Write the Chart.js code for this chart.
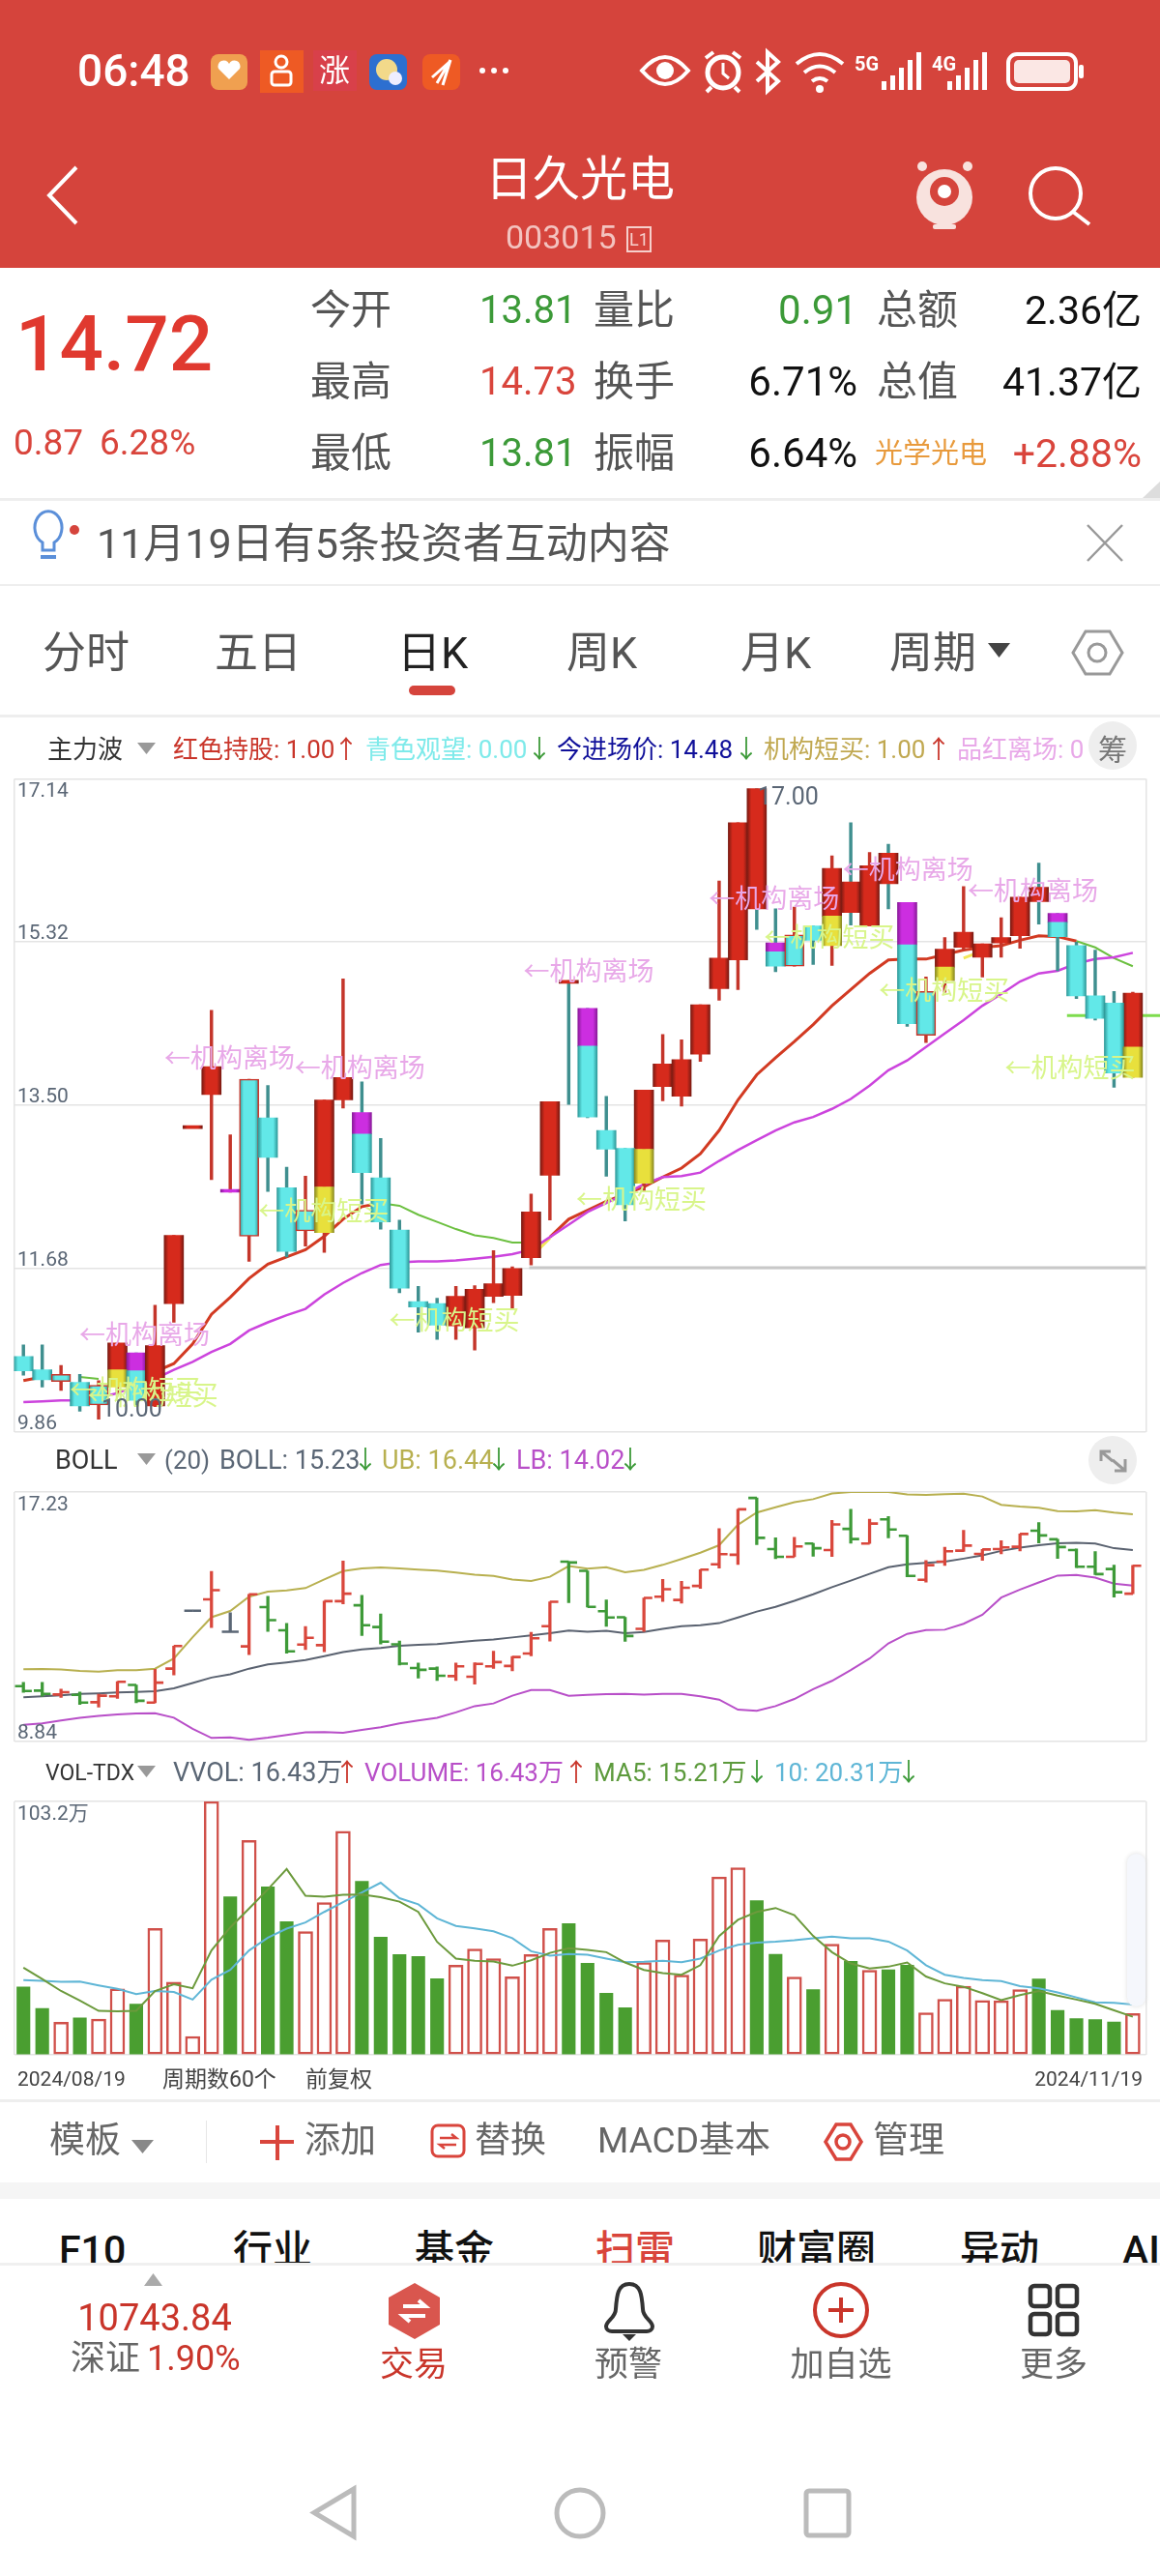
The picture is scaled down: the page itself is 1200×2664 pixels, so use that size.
<!DOCTYPE html>
<html lang="zh">
<head>
<meta charset="utf-8">
<title>日久光电 003015</title>
<script src="https://cdn.jsdelivr.net/npm/chart.js@4/dist/chart.umd.js"></script>
<style>
  html, body { margin: 0; padding: 0; background: #fff; }
  body { position: relative; width: 1200px; height: 2664px; overflow: hidden; font-family: Roboto, "Noto Sans CJK SC", sans-serif; }
  canvas { position: absolute; left: 0; display: block; z-index: 1; }
  .txt { position: absolute; white-space: nowrap; line-height: 1; z-index: 4; transform: translateY(-50%); }
  .box { position: absolute; }
  svg.ui { position: absolute; left: 0; top: 0; z-index: 3; }
</style>
</head>
<body>
<div class="box" style="left:0;top:0;width:1200px;height:277px;background:#D5443C"></div>
<div class="box" style="left:0;top:515px;width:1200px;height:3px;background:#eee"></div>
<div class="box" style="left:0;top:604px;width:1200px;height:2px;background:#eee"></div>
<div class="box" style="left:423px;top:709px;width:48px;height:10px;border-radius:5px;background:#D5443C"></div>
<div class="box" style="left:0;top:739px;width:1200px;height:3px;background:#eee"></div>
<div class="box" style="left:0;top:2171px;width:1200px;height:3px;background:#eee"></div>
<div class="box" style="left:213px;top:2193px;width:1px;height:44px;background:#e6e6e6"></div>
<div class="box" style="left:0;top:2257px;width:1200px;height:17px;background:#f5f5f5"></div>
<div class="box" style="left:1126px;top:746px;width:50px;height:50px;border-radius:25px;background:#eee;z-index:2"></div>
<div class="box" style="left:1126px;top:1485px;width:50px;height:50px;border-radius:25px;background:#eee;z-index:2"></div>
<div class="box" style="left:1166px;top:1917px;width:19px;height:158px;border-radius:10px;background:#f5f7fc;box-shadow:0 0 5px #ddd;z-index:2"></div>
<div class="box" style="left:0;top:2340px;width:1200px;height:324px;background:#fff;border-top:3px solid #f0f0f0;box-sizing:border-box;z-index:2"></div>

<canvas id="mainChart" width="1200" height="690" style="top:800px"></canvas>
<canvas id="bollChart" width="1200" height="272" style="top:1536px"></canvas>
<canvas id="volChart" width="1200" height="272" style="top:1858px"></canvas>

<svg class="ui" width="1200" height="2664" fill="none">
  <!-- status bar -->
  <rect x="218" y="56" width="38" height="37" rx="8" fill="#F0A050"/>
  <path d="M237 82l-11-11a6 6 0 0 1 11-5a6 6 0 0 1 11 5z" fill="#fff"/>
  <rect x="269" y="52" width="45" height="44" fill="#EE5A24"/>
  <circle cx="291" cy="64" r="6" stroke="#fff" stroke-width="3"/><rect x="281" y="74" width="20" height="14" rx="3" stroke="#fff" stroke-width="3"/>
  <rect x="324" y="52" width="45" height="42" fill="#D8404A"/>
  <text x="346" y="84" font-size="32" fill="#fff" text-anchor="middle" font-family="Noto Sans CJK SC">涨</text>
  <rect x="382" y="56" width="39" height="37" rx="8" fill="#2D6FD0"/>
  <circle cx="400" cy="72" r="11" fill="#F2D98A"/><circle cx="409" cy="81" r="7" fill="#eef"/>
  <rect x="437" y="56" width="39" height="37" rx="8" fill="#EE5A24"/>
  <path d="M447 80l18-16M452 86l14-24M458 88l8-26" stroke="#fff" stroke-width="3"/>
  <circle cx="499" cy="73" r="3" fill="#fff"/><circle cx="511" cy="73" r="3" fill="#fff"/><circle cx="523" cy="73" r="3" fill="#fff"/>
  <path d="M664 73q24-28 48 0q-24 28-48 0z" stroke="#fff" stroke-width="4"/><circle cx="688" cy="73" r="9" fill="#fff"/>
  <circle cx="748" cy="75" r="16" stroke="#fff" stroke-width="5"/><path d="M748 65v11l6 5" stroke="#fff" stroke-width="3"/><path d="M730 60l8-6M766 60l-8-6M736 90l-5 5M760 90l5 5" stroke="#fff" stroke-width="4"/>
  <path d="M783 64l22 20l-11 10v-40l11 10l-22 20" stroke="#fff" stroke-width="4"/>
  <path d="M824 66q24-20 48 0M832 75q16-13 32 0M840 84q8-6 16 0" stroke="#fff" stroke-width="4"/><circle cx="848" cy="92" r="4" fill="#fff"/>
  <g fill="#fff" font-family="Roboto" font-size="20" font-weight="700"><text x="884" y="73">5G</text><text x="964" y="73">4G</text></g>
  <g fill="#fff">
    <rect x="912" y="84" width="5" height="9"/><rect x="921" y="78" width="5" height="15"/><rect x="930" y="70" width="5" height="23"/><rect x="939" y="62" width="5" height="31"/><rect x="948" y="54" width="5" height="39"/>
    <rect x="980" y="84" width="5" height="9"/><rect x="989" y="78" width="5" height="15"/><rect x="998" y="70" width="5" height="23"/><rect x="1007" y="62" width="5" height="31"/><rect x="1016" y="54" width="5" height="39"/>
  </g>
  <rect x="1043" y="56" width="70" height="36" rx="9" stroke="#fff" stroke-width="4"/><rect x="1049" y="62" width="58" height="24" rx="5" fill="#FBE7E4"/><rect x="1116" y="67" width="5" height="14" rx="2" fill="#fff"/>
  <!-- nav -->
  <path d="M79 173l-28 29l28 29" stroke="#fff" stroke-width="4"/>
  <circle cx="977" cy="204" r="29" fill="#F8E2DE"/><circle cx="977" cy="198" r="15" fill="#D5443C"/><circle cx="977" cy="198" r="7" fill="#fff"/>
  <circle cx="954" cy="172" r="5" fill="#F8E2DE"/><circle cx="1001" cy="172" r="5" fill="#F8E2DE"/><rect x="965" y="232" width="24" height="5" rx="2" fill="#F8E2DE"/>
  <circle cx="1092" cy="200" r="26" stroke="#fff" stroke-width="4"/><path d="M1110 219l17 13" stroke="#fff" stroke-width="4"/>
  <rect x="649" y="235" width="24" height="25" stroke="#F6CFCB" stroke-width="2"/>
  <!-- stats corner, notice, tabs -->
  <path d="M1200 498v17h-18z" fill="#ddd"/>
  <path d="M56 563a14 17 0 1 0-12 0v8h12z" stroke="#5B8FD9" stroke-width="3" transform="translate(0 -2)"/><rect x="42" y="574" width="16" height="4" fill="#5B8FD9"/>
  <circle cx="77" cy="548" r="5" fill="#D5443C"/>
  <path d="M1125 543l36 37M1161 543l-36 37" stroke="#999" stroke-width="2.5"/>
  <path d="M1022 665h23l-11.500 15z" fill="#444"/>
  <path d="M1123 653h25l13 22l-13 22h-25l-13-22z" stroke="#999" stroke-width="3"/><circle cx="1135" cy="675" r="9" stroke="#999" stroke-width="3"/>
  <!-- legend triangles -->
  <g fill="#999"><path d="M142 768h19l-9.500 12z"/><path d="M142 1503h19l-9.500 12z"/><path d="M142 1826h19l-9.500 12z"/></g>
  <!-- expand icon -->
  <path d="M1139 1511v-10h10M1139 1501l12 10M1164 1509v12h-11M1164 1521l-13-11" stroke="#999" stroke-width="3"/>
  <!-- toolbar -->
  <g transform="translate(0 1)">
    <path d="M136 2212h23l-11.500 14z" fill="#888"/>
    <path d="M287 2197v36M269 2214h35" stroke="#D9453C" stroke-width="4"/>
    <rect x="447" y="2197" width="33" height="32" rx="6" stroke="#D9453C" stroke-width="3"/><path d="M455 2210h17l-5-4M472 2217h-17l5 4" stroke="#D9453C" stroke-width="2.500"/>
    <path d="M865 2196h15l11 18l-11 18h-15l-11-18z" stroke="#D9453C" stroke-width="3.500"/><circle cx="872" cy="2214" r="7" stroke="#D9453C" stroke-width="3.500"/>
  </g>
  <!-- bottom bar -->
  <g transform="translate(0 4)">
    <path d="M149 2360l9.500-13l9.500 13z" fill="#aaa"/>
    <path d="M429 2357l26 15v28l-26 15l-27-15v-28z" fill="#D9564E"/>
    <path d="M417 2381h23l-7-6M440 2391h-23l7 6" stroke="#fff" stroke-width="4"/>
    <path d="M651 2358c-12 0-13 12-14 26c0 9-10 12-10 18c0 3 3 5 6 5h36c3 0 6-2 6-5c0-6-10-9-10-18c-1-14-2-26-14-26z" stroke="#333" stroke-width="4"/>
    <path d="M644 2410h14l-7 7z" fill="#333"/>
    <circle cx="870" cy="2385" r="27" stroke="#C9352A" stroke-width="4"/><path d="M870 2372v26M857 2385h26" stroke="#C9352A" stroke-width="4"/>
    <g stroke="#333" stroke-width="4.500">
      <rect x="1066" y="2360" width="20" height="21" rx="4"/><rect x="1094" y="2360" width="20" height="21" rx="4"/>
      <rect x="1066" y="2389" width="20" height="21" rx="4"/><rect x="1094" y="2389" width="20" height="21" rx="4"/>
    </g>
  </g>
  <!-- system nav -->
  <g stroke="#bbb" stroke-width="5" transform="translate(0 7)">
    <path d="M366 2567v49l-41-24.500z"/><ellipse cx="600" cy="2592" rx="24" ry="24"/><rect x="834" y="2569" width="44" height="46" rx="3"/>
  </g>
</svg>

<script>
// 行情数据,从截图读取
const openPrice = [10.70,10.55,10.42,10.41,10.16,10.36,10.74,10.15,11.29,13.24,13.62,12.53,12.04,13.36,12.58,12.10,12.08,13.56,13.42,12.69,12.11,11.31,11.29,11.04,11.02,11.37,11.38,11.80,12.72,14.89,14.58,13.22,13.02,12.63,13.71,13.60,14.07,14.80,15.12,17.03,15.31,15.05,15.50,15.28,15.99,15.50,16.31,15.76,14.28,14.89,15.26,15.15,15.31,15.39,15.93,15.64,15.28,14.72,14.64,13.81];
const closePrice = [10.54,10.44,10.50,10.15,10.38,10.85,10.21,10.82,12.05,13.24,13.93,12.53,13.79,12.92,11.87,12.33,13.56,13.81,12.75,12.20,11.46,11.25,11.05,11.37,11.45,11.51,11.68,12.31,13.54,14.86,13.37,13.01,12.39,13.67,13.96,14.01,14.62,15.14,16.65,15.69,15.05,15.40,15.34,16.14,15.65,16.17,15.97,14.41,14.77,15.24,15.43,15.30,15.37,15.82,15.77,15.38,14.72,14.47,13.86,14.75];
const highPrice = [10.83,10.83,10.60,10.50,10.43,10.85,10.74,11.27,12.05,13.24,14.56,13.17,13.79,13.72,12.81,12.71,13.56,14.91,13.76,13.13,12.22,11.48,11.35,11.48,11.49,11.88,11.70,12.51,13.54,14.89,14.58,13.60,13.02,13.67,14.29,14.23,14.62,16.00,16.65,17.03,15.69,15.71,15.50,16.28,16.65,16.32,16.41,15.76,14.93,15.37,15.94,15.30,15.59,15.82,16.20,15.64,15.32,15.23,14.77,14.76];
const lowPrice = [10.49,10.36,10.32,10.09,10.00,10.29,10.14,10.14,11.08,13.24,12.67,12.53,11.76,12.54,11.81,11.93,11.86,13.47,12.40,12.12,11.41,10.97,10.89,10.89,10.77,11.30,11.22,11.72,12.22,13.51,13.36,12.71,12.21,12.54,13.55,13.49,13.99,14.67,14.79,15.46,14.99,15.05,15.07,15.06,15.51,15.50,15.69,14.38,14.20,14.76,15.23,14.93,15.15,15.25,15.52,15.00,14.69,14.45,13.70,13.81];

// K线实体颜色: c青 r红 m品红, 两位时上段/下段
const bodyKind = ['c','c','c','c','c','ry','mc','r','r','r','r','m','c','c','c','c','ry','r','mc','c','c','c','c','r','r','r','r','r','r','r','mc','c','c','ry','r','r','r','r','r','r','mc','c','c','ry','r','r','r','mc','c','ry','r','r','r','r','r','mc','c','c','c','ry'];
const splitIndex = [5,6,16,18,30,33,40,43,47,49,55,59];
const splitPrice = [10.55,10.54,12.59,13.18,14.16,13.01,15.21,15.61,15.29,15.04,15.54,14.15];

const mainRed = [10.43,10.47,10.48,null,null,10.42,10.43,10.53,10.62,10.84,11.17,11.36,11.57,11.73,11.81,11.89,12.04,12.23,12.37,12.41,null,null,null,null,null,null,null,null,12.03,12.23,12.33,12.43,12.51,12.59,12.70,12.80,12.96,13.22,13.56,13.84,14.03,14.21,14.40,14.61,14.79,14.97,15.12,15.13,15.13,15.18,15.23,15.26,15.28,15.34,15.39,15.38,15.33,null,null,null];
const mainGreen = [null,null,null,10.47,10.45,null,null,null,null,null,null,null,null,null,null,null,null,null,null,12.41,12.38,12.28,12.20,12.12,12.05,12.02,11.97,11.97,null,null,null,null,null,null,null,null,null,null,null,null,null,null,null,null,null,null,null,null,null,null,null,null,null,null,null,null,15.33,15.26,15.14,15.05];
const mainMagenta = [10.19,10.20,10.21,10.21,10.24,10.29,10.38,10.45,10.55,10.64,10.75,10.84,10.99,11.08,11.16,11.23,11.39,11.52,11.63,11.72,11.75,11.76,11.76,11.77,11.79,11.81,11.84,11.89,12.03,12.17,12.31,12.41,12.51,12.62,12.70,12.71,12.75,12.88,13.00,13.11,13.22,13.31,13.37,13.46,13.57,13.72,13.89,14.00,14.15,14.30,14.45,14.61,14.74,14.88,14.97,15.00,15.08,15.13,15.15,15.20];
const mainYellow = [{x:27,y:11.81},{x:28,y:12.02},{x:28.5,y:null},{x:50,y:15.14},{x:50.5,y:15.18}];
const entryLine = [{x:55.5,y:14.50},{x:60.46,y:14.50}];
const supportLine = [{x:26.9,y:11.69},{x:59.7,y:11.69}];

const leaveLabels = [[3.17,10.95],[7.7,14.03],[14.63,13.92],[26.8,15.00],[36.65,15.81],[43.77,16.13],[50.42,15.90]];
const buyLabels = [[2.68,10.33],[3.62,10.27],[12.7,12.33],[19.65,11.11],[29.6,12.46],[39.6,15.38],[45.7,14.79],[52.4,13.92]];
const priceMarks = [[39.06,16.92,'17.00'],[4.15,10.10,'10.00']];
const mainTicks = [17.14,15.32,13.50,11.68,9.86];

const bollMid = [10.33,10.36,10.39,10.44,10.46,10.49,10.51,10.53,10.63,10.81,10.99,11.10,11.29,11.43,11.50,11.58,11.71,11.85,11.94,11.99,12.06,12.09,12.12,12.17,12.23,12.27,12.34,12.41,12.48,12.57,12.53,12.56,12.48,12.52,12.63,12.72,12.75,12.82,13.01,13.21,13.37,13.57,13.79,14.03,14.25,14.48,14.70,14.80,14.85,14.89,14.99,15.10,15.25,15.36,15.44,15.51,15.52,15.50,15.34,15.28];
const bollUpper = [11.27,11.28,11.26,11.21,11.19,11.24,11.24,11.29,11.63,12.35,13.02,13.23,13.71,13.88,13.92,14.00,14.29,14.57,14.66,14.69,14.66,14.62,14.59,14.52,14.45,14.41,14.29,14.24,14.38,14.74,14.65,14.70,14.53,14.61,14.78,14.98,15.19,15.44,16.13,16.54,16.72,16.89,16.99,17.18,17.23,17.23,17.23,17.15,17.13,17.16,17.17,17.08,16.80,16.74,16.70,16.59,16.58,16.62,16.54,16.48];
const bollLower = [9.40,9.45,9.55,9.64,9.70,9.75,9.78,9.79,9.64,9.27,8.96,8.98,8.90,8.97,9.06,9.15,9.16,9.13,9.23,9.32,9.45,9.55,9.64,9.82,10.03,10.12,10.38,10.57,10.57,10.38,10.41,10.43,10.44,10.42,10.44,10.44,10.36,10.25,9.91,9.87,10.03,10.27,10.60,10.88,11.24,11.63,12.14,12.46,12.59,12.60,12.80,13.10,13.68,13.95,14.19,14.42,14.44,14.35,14.15,14.08];
const bollTicks = [17.23,8.84];

const volume = [27.6,18.9,13.3,15.0,14.5,26.9,20.6,51.5,29.6,7.5,103.2,64.4,87.3,68.4,54.2,50.2,62.0,91.1,70.7,47.9,40.8,40.0,31.0,36.5,43.1,39.2,31.8,40.8,51.5,53.4,37.3,25.1,19.2,37.6,46.7,32.5,47.1,72.4,76.2,62.8,40.9,31.7,26.6,45.1,38.1,34.4,34.6,36.5,17.1,22.6,27.9,22.1,22.0,26.6,30.9,18.1,14.7,14.3,13.4,16.8];
const volumeColor = ['g','g','r','g','r','r','g','r','r','r','r','g','r','g','g','r','r','r','g','g','g','g','g','r','r','r','r','r','r','g','g','g','g','r','r','r','r','r','r','g','g','r','g','r','g','r','g','g','r','r','r','r','r','r','g','g','g','g','g','r'];
const volumeMa5 = [35.5,30.9,26.0,22.1,17.9,17.7,17.9,26.0,28.7,27.1,42.5,51.9,59.6,67.4,75.7,64.8,64.4,65.2,65.3,64.2,62.4,58.2,46.0,39.2,38.3,38.0,36.3,38.5,41.5,43.4,42.7,41.8,37.6,34.6,33.3,32.6,36.5,48.4,55.0,58.2,59.8,56.9,48.4,41.8,37.2,35.2,35.9,37.6,31.9,29.1,27.7,25.1,22.3,24.3,26.0,24.1,22.5,20.8,18.1,15.5];
const volumeMa10 = [30.4,30.1,29.7,29.8,28.3,26.9,24.7,26.0,25.6,22.5,30.6,34.6,42.5,47.7,51.4,53.9,58.2,62.2,66.1,70.1,63.8,61.3,55.6,52.5,51.5,50.3,47.5,42.2,40.4,41.1,40.8,39.2,37.7,37.9,38.3,37.7,39.2,42.5,44.8,45.7,46.1,46.7,47.5,48.2,47.5,47.5,46.1,42.5,36.5,32.6,31.3,30.4,30.0,28.0,27.1,25.4,23.4,21.4,21.2,20.5];
const volumeMax = 103.2;

// 页面文字 [x, y中心, 文字, 字号, 颜色, 对齐, 字重]
const GRAY = '#555', RED = '#D9453C', GREEN = '#3C9A38', INK = '#111';
const pageText = [
  [80,73,'06:48',46,'#fff','l',500],
  [600,185,'日久光电',49,'#fff','c'],
  [523,245,'003015',34,'#F3C3BF','l'],
  [661,248,'L1',18,'#F6CFCB','c'],
  [16,356,'14.72',80,'#E0392F','l',500],
  [14,457,'0.87',37,RED,'l'],
  [103,457,'6.28%',37,RED,'l'],
  [321,321,'今开',42,GRAY,'l'],[321,395,'最高',42,GRAY,'l'],[321,469,'最低',42,GRAY,'l'],
  [496,321,'13.81',40,GREEN,'l'],[496,395,'14.73',40,RED,'l'],[496,469,'13.81',40,GREEN,'l'],
  [614,321,'量比',42,GRAY,'l'],[614,395,'换手',42,GRAY,'l'],[614,469,'振幅',42,GRAY,'l'],
  [887,321,'0.91',42,GREEN,'r'],[887,395,'6.71%',42,INK,'r'],[887,469,'6.64%',42,INK,'r'],
  [907,321,'总额',42,GRAY,'l'],[907,395,'总值',42,GRAY,'l'],[905,469,'光学光电',29,'#E89A3C','l'],
  [1181,321,'2.36亿',41,INK,'r'],[1181,395,'41.37亿',41,INK,'r'],[1181,469,'+2.88%',41,RED,'r'],
  [100,562,'11月19日有5条投资者互动内容',43,GRAY,'l'],
  [44,675,'分时',45,GRAY,'l'],[222,675,'五日',45,GRAY,'l'],[411,675,'日K',45,'#222','l'],
  [586,675,'周K',45,GRAY,'l'],[766,675,'月K',45,GRAY,'l'],[920,675,'周期',45,GRAY,'l'],
  // 主图图例
  [49,775,'主力波',26,'#333','l'],
  [179,775,'红色持股: 1.00',26,'#C9352A','l'],[358,775,'↑',26,'#C9352A','c'],
  [378,775,'青色观望: 0.00',26,'#7EEAEA','l'],[558,775,'↓',26,GREEN,'c'],
  [576,775,'今进场价: 14.48',26,'#10109A','l'],[772,775,'↓',26,GREEN,'c'],
  [790,775,'机构短买: 1.00',26,'#C0A850','l'],[971,775,'↑',26,'#C9352A','c'],
  [990,775,'品红离场: 0',26,'#E8A8E8','l'],
  [1151,776,'筹',30,'#777','c'],
  // BOLL图例
  [57,1510,'BOLL',27,'#333','l'],[170,1510,'(20)',26,'#5a6675','l'],
  [227,1510,'BOLL: 15.23',27,'#5a6675','l'],[378,1510,'↓',26,GREEN,'c'],
  [395,1510,'UB: 16.44',27,'#B8B050','l'],[516,1510,'↓',26,GREEN,'c'],
  [534,1510,'LB: 14.02',27,'#B84FC8','l'],[652,1510,'↓',26,GREEN,'c'],
  // 成交量图例
  [47,1833,'VOL-TDX',23,'#333','l'],
  [179,1833,'VVOL: 16.43万',27,'#5a6675','l'],[359,1833,'↑',26,'#C9352A','c'],
  [377,1833,'VOLUME: 16.43万',26,'#B84FC8','l'],[596,1833,'↑',26,'#C9352A','c'],
  [614,1833,'MA5: 15.21万',26,'#5C9A3C','l'],[783,1833,'↓',26,GREEN,'c'],
  [801,1833,'10: 20.31万',26,'#5FB6D6','l'],[940,1833,'↓',26,GREEN,'c'],
  [18,2150,'2024/08/19',21,'#444','l'],[168,2150,'周期数60个',23,'#444','l'],[316,2150,'前复权',23,'#444','l'],
  [1182,2150,'2024/11/19',21,'#444','r'],
  // 工具条
  [51,2213,'模板',37,'#666','l'],[315,2213,'添加',37,'#666','l'],[491,2213,'替换',37,'#666','l'],
  [618,2213,'MACD基本',37,'#666','l'],[903,2213,'管理',37,'#666','l'],
  // 底部
  [160,2397,'10743.84',38,'#C9352A','c'],
  [73,2439,'深证',36,'#666','l'],[152,2439,'1.90%',36,'#C9352A','l'],
  [428,2445,'交易',35,'#C9352A','c'],[650,2445,'预警',35,'#666','c'],
  [870,2445,'加自选',35,'#666','c'],[1090,2445,'更多',35,'#666','c'],
];
// 被底栏遮住一半的标签
const cutTabs = [[61,'F10','#111'],[241,'行业','#111'],[429,'基金','#111'],[616,'扫雷',RED],[783,'财富圈','#111'],[993,'异动','#111'],[1161,'AI','#111']];

pageText.forEach(([x, y, str, size, color, align, weight]) => {
  const el = document.createElement('div');
  el.className = 'txt';
  el.textContent = str;
  el.style.top = y + 'px';
  el.style.fontSize = size + 'px';
  el.style.color = color;
  if (weight) el.style.fontWeight = weight;
  if (align === 'r') el.style.right = (1200 - x) + 'px';
  else if (align === 'c') { el.style.left = x + 'px'; el.style.transform = 'translate(-50%,-50%)'; }
  else el.style.left = x + 'px';
  document.body.appendChild(el);
});
cutTabs.forEach(([x, str, color]) => {
  const el = document.createElement('div');
  el.className = 'txt';
  el.style.cssText = `left:${x}px;top:2327px;font-size:41px;font-weight:500;color:${color};z-index:1`;
  el.textContent = str;
  document.body.appendChild(el);
});

const count = openPrice.length;
const xMin = -0.5, xMax = 59.7;
const idx = Array.from({ length: count }, (_, i) => i);
const toXY = arr => arr.map((y, x) => ({ x, y }));
const pad = (t, b) => ({ left: 14.5, right: 14.5, top: t, bottom: b });
const gridColor = '#e4e4e4';

function panelScales(yMin, yMax, yTicks) {
  return {
    x: {
      type: 'linear', min: xMin, max: xMax, offset: false,
      afterBuildTicks: s => { s.ticks = [{ value: xMin }, { value: xMax }]; },
      ticks: { display: false, autoSkip: false },
      grid: { color: gridColor, lineWidth: 1.5, drawTicks: false, offset: false },
      border: { display: false },
    },
    y: {
      type: 'linear', min: yMin, max: yMax,
      afterBuildTicks: s => { s.ticks = yTicks.map(value => ({ value })); },
      ticks: { display: false, autoSkip: false },
      grid: { color: gridColor, lineWidth: 1.5, drawTicks: false },
      border: { display: false },
    },
  };
}

function baseOptions(scales, t, b) {
  return {
    responsive: false, animation: false, devicePixelRatio: 1,
    layout: { padding: pad(t, b) },
    plugins: { legend: { display: false }, tooltip: { enabled: false } },
    elements: { point: { radius: 0 } },
    scales,
  };
}

// 轴标签:顶部数字在线下,其余在线上
function axisLabelPlugin(labels) {
  return {
    id: 'axisLabels',
    afterDatasetsDraw(chart) {
      const { ctx, scales: { y } } = chart;
      ctx.save();
      ctx.font = '21px Roboto, "Noto Sans CJK SC"';
      ctx.fillStyle = '#5a6675';
      ctx.textBaseline = 'alphabetic';
      labels.forEach(([value, str]) => {
        const py = y.getPixelForValue(value);
        ctx.fillText(str, 18, value === y.max ? py + 19 : py - 3);
      });
      ctx.restore();
    },
  };
}

// 机构离场/短买 文字标注
const markPlugin = {
  id: 'marks',
  afterDatasetsDraw(chart) {
    const { ctx, scales: { x, y } } = chart;
    ctx.save();
    ctx.textBaseline = 'middle';
    ctx.font = '27px "Noto Sans CJK SC"';
    ctx.fillStyle = '#E8A8E8';
    leaveLabels.forEach(([i, p]) => ctx.fillText('←机构离场', x.getPixelForValue(i) - 4, y.getPixelForValue(p)));
    ctx.fillStyle = '#D8F58A';
    buyLabels.forEach(([i, p]) => ctx.fillText('←机构短买', x.getPixelForValue(i) - 4, y.getPixelForValue(p)));
    ctx.font = '25px Roboto';
    ctx.fillStyle = '#5a6675';
    priceMarks.forEach(([i, p, s]) => ctx.fillText(s, x.getPixelForValue(i), y.getPixelForValue(p)));
    ctx.restore();
  },
};

const palette = {
  r: ['#7a1a12', '#d62a1c'],
  c: ['#2f9a9a', '#62e8e8'],
  m: ['#8a1a9a', '#cc2ee0'],
  y: ['#8a8a20', '#e8e03c'],
};
function bodyFill(ctx, letter) {
  const [edge, mid] = palette[letter];
  if (!ctx.raw) return mid;
  const c = ctx.chart;
  const cx = c.scales.x.getPixelForValue(ctx.raw.x);
  if (!Number.isFinite(cx)) return mid;
  const g = c.ctx.createLinearGradient(cx - 10, 0, cx + 10, 0);
  g.addColorStop(0, edge);
  g.addColorStop(0.22, mid);
  g.addColorStop(0.78, mid);
  g.addColorStop(1, edge);
  return g;
}
const isUp = i => closePrice[i] >= openPrice[i];
const bodyTop = i => Math.max(openPrice[i], closePrice[i]);
const bodyBottom = i => Math.min(openPrice[i], closePrice[i]);
const splitAt = i => { const k = splitIndex.indexOf(i); return k < 0 ? null : splitPrice[k]; };

const wickDataset = (width, colorOf, order) => ({
  type: 'bar', grouped: false, order, barThickness: width,
  data: idx.filter(i => highPrice[i] > lowPrice[i]).map(i => ({ x: i, y: [lowPrice[i], highPrice[i]] })),
  backgroundColor: ctx => (ctx.raw ? colorOf(ctx.raw.x) : '#999'),
});
const lineDataset = (data, color, width, order = 10) => ({
  type: 'line', data, borderColor: color, borderWidth: width, pointRadius: 0, tension: 0, order, spanGaps: false,
});

new Chart(document.getElementById('mainChart'), {
  data: {
    datasets: [
      {
        type: 'bar', grouped: false, order: 1, barThickness: 20, minBarLength: 3,
        data: idx.map(i => ({ x: i, y: [bodyBottom(i), splitAt(i) ?? bodyTop(i)] })),
        backgroundColor: ctx => bodyFill(ctx, ctx.raw ? bodyKind[ctx.raw.x].slice(-1) : 'r'),
        borderColor: '#C9352A',
        borderWidth: ctx => (ctx.raw && bodyKind[ctx.raw.x] === 'c' && closePrice[ctx.raw.x] > openPrice[ctx.raw.x] ? 1.5 : 0),
        borderSkipped: false,
      },
      {
        type: 'bar', grouped: false, order: 1, barThickness: 20,
        data: splitIndex.map((i, k) => ({ x: i, y: [splitPrice[k], bodyTop(i)] })),
        backgroundColor: ctx => bodyFill(ctx, ctx.raw ? bodyKind[ctx.raw.x][0] : 'r'),
        borderWidth: 0,
      },
      wickDataset(2.8, i => (isUp(i) ? '#C4352A' : '#3F8F8F'), 3),
      lineDataset(toXY(mainMagenta), '#CC44DD', 2.5),
      lineDataset(toXY(mainRed), '#D23A22', 3),
      lineDataset(toXY(mainGreen), '#6CC040', 2),
      lineDataset(mainYellow, '#F2E65A', 3),
      { ...lineDataset(entryLine, '#7EDC4E', 3, 2), clip: false },
      lineDataset(supportLine, '#c8c8c8', 3, 11),
    ],
  },
  options: baseOptions(panelScales(9.86, 17.14, mainTicks), 5.4, 9.3),
  plugins: [axisLabelPlugin(mainTicks.map(v => [v, v.toFixed(2)])), markPlugin],
});

// BOLL 面板: 美国线
const barColor = i => (closePrice[i] > openPrice[i] ? '#D9473C' : closePrice[i] < openPrice[i] ? '#3E9A38' : '#5a6675');
const tickDataset = (values, shift) => ({
  type: 'scatter', order: 2, showLine: false,
  data: values.map((y, i) => ({ x: i + shift, y })),
  pointStyle: 'line', pointRadius: 4.4, pointBorderWidth: 2.6,
  pointBorderColor: values.map((_, i) => barColor(i)),
  pointBackgroundColor: values.map((_, i) => barColor(i)),
});
new Chart(document.getElementById('bollChart'), {
  data: {
    datasets: [
      lineDataset(toXY(bollUpper), '#B8B050', 2),
      lineDataset(toXY(bollMid), '#5a6270', 2),
      lineDataset(toXY(bollLower), '#B84FC8', 2),
      wickDataset(2.6, barColor, 3),
      tickDataset(openPrice, -0.22),
      tickDataset(closePrice, 0.22),
    ],
  },
  options: baseOptions(panelScales(8.84, 17.23, bollTicks), 4.7, 4.7),
  plugins: [axisLabelPlugin(bollTicks.map(v => [v, v.toFixed(2)]))],
});

// 成交量面板
const upVolume = idx.filter(i => volumeColor[i] === 'r').map(i => ({ x: i, y: volume[i] }));
const downVolume = idx.filter(i => volumeColor[i] === 'g').map(i => ({ x: i, y: volume[i] }));
new Chart(document.getElementById('volChart'), {
  data: {
    datasets: [
      {
        type: 'bar', grouped: false, order: 5, barThickness: 15, data: upVolume,
        backgroundColor: '#fff', borderColor: '#D0504A', borderWidth: 2.5, borderSkipped: false,
      },
      { type: 'bar', grouped: false, order: 5, barThickness: 13.5, data: downVolume, backgroundColor: '#4A9E30', borderWidth: 0 },
      lineDataset(toXY(volumeMa10), '#5FB6D6', 2, 1),
      lineDataset(toXY(volumeMa5), '#6C9A3C', 2, 0),
    ],
  },
  options: baseOptions(panelScales(0, volumeMax, [0, volumeMax]), 5, 5),
  plugins: [axisLabelPlugin([[volumeMax, '103.2万']])],
});
</script>
</body>
</html>
